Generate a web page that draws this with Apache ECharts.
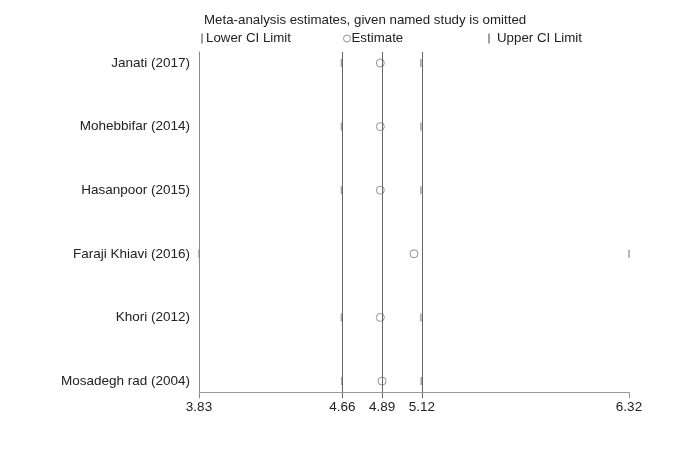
<!DOCTYPE html>
<html><head><meta charset="utf-8">
<script src="https://cdn.jsdelivr.net/npm/echarts@6/dist/echarts.min.js"></script>
<style>html,body{margin:0;padding:0;background:#fff}#c{width:678px;height:452px}</style>
</head><body><div id="c"></div>
<script>
const studies = ['Janati (2017)','Mohebbifar (2014)','Hasanpoor (2015)','Faraji Khiavi (2016)','Khori (2012)','Mosadegh rad (2004)'];
const estimate = [4.88, 4.88, 4.88, 5.075, 4.88, 4.89];
const lower = [4.655, 4.655, 4.655, 3.83, 4.655, 4.657];
const upper = [5.115, 5.115, 5.115, 6.32, 5.115, 5.117];
const xTicks = [3.83, 4.66, 4.89, 5.12, 6.32];
const refLines = [4.66, 4.89, 5.12];
const titleText = 'Meta-analysis estimates, given named study is omitted';

const rows = studies.map((s,i)=>i+1);
const yMin = 0.827, yAxisPos = 6.173, yMax = 6.267;
const xMin = 3.83, xMax = 6.32;
const font = 'Liberation Sans, Arial, sans-serif';
const fs = 13.5, fsT = 13.3;
const chart = echarts.init(document.getElementById('c'), null, {renderer:'canvas'});
const pairs = arr => arr.map((v,i)=>[v, rows[i]]);
const axisLineSeg = [[{coord:[xMin,yAxisPos], lineStyle:{color:'#999'}},{coord:[xMax,yAxisPos]}]];
const tickLines = xTicks.filter(v=>refLines.indexOf(v)<0 && v!==xMin).map(v=>[{coord:[v,yAxisPos], lineStyle:{color:'#999'}},{coord:[v,yMax]}]);
const fullLines = refLines.map(v=>[{coord:[v,yMin]},{coord:[v,yMax]}]);
chart.setOption({
  animation:false,
  title:{text:titleText, left:199, top:9, textStyle:{fontFamily:font,fontSize:fsT,fontWeight:'normal',color:'#222'}},
  legend:[
    {data:['Lower CI Limit'], left:196, top:27, itemWidth:2, itemHeight:10, textStyle:{fontFamily:font,fontSize:fsT,color:'#222',padding:[0,0,0,-2]}},
    {data:['Estimate'], left:338, top:27, itemWidth:7, itemHeight:7, itemStyle:{borderWidth:1}, textStyle:{fontFamily:font,fontSize:fsT,color:'#222',padding:[0,0,0,-4]}},
    {data:['Upper CI Limit'], left:483, top:27, itemWidth:2, itemHeight:10, textStyle:{fontFamily:font,fontSize:fsT,color:'#222',padding:[0,0,0,2]}}
  ],
  grid:{left:199, right:49, top:52, bottom:54, containLabel:false},
  xAxis:{type:'value', min:xMin, max:xMax,
    axisLine:{show:false},
    axisTick:{show:false},
    axisLabel:{customValues:xTicks, formatter:v=>v.toFixed(2), fontFamily:font, fontSize:fs, color:'#222', margin:2},
    splitLine:{show:false}},
  yAxis:{type:'value', inverse:true, min:yMin, max:yMax,
    axisLine:{show:true, lineStyle:{color:'#888',width:1}},
    axisTick:{show:false},
    axisLabel:{customValues:rows, formatter:v=>studies[Math.round(v)-1]||'', fontFamily:font, fontSize:fs, color:'#222', margin:9},
    splitLine:{show:false}},
  series:[
    {name:'Lower CI Limit', type:'scatter', symbol:'rect', symbolSize:[1.5,8], itemStyle:{color:'#888'}, data:pairs(lower), z:3},
    {name:'Upper CI Limit', type:'scatter', symbol:'rect', symbolSize:[1.5,8], itemStyle:{color:'#888'}, data:pairs(upper), z:3},
    {name:'Estimate', type:'scatter', symbol:'circle', symbolSize:8,
      itemStyle:{color:'#fff', borderColor:'#777', borderWidth:1}, data:pairs(estimate), z:4,
      markLine:{silent:true, symbol:['none','none'], label:{show:false},
        lineStyle:{color:'#666', width:1, type:'solid'},
        data:fullLines.concat(axisLineSeg, tickLines)}}
  ]
});
</script></body></html>
